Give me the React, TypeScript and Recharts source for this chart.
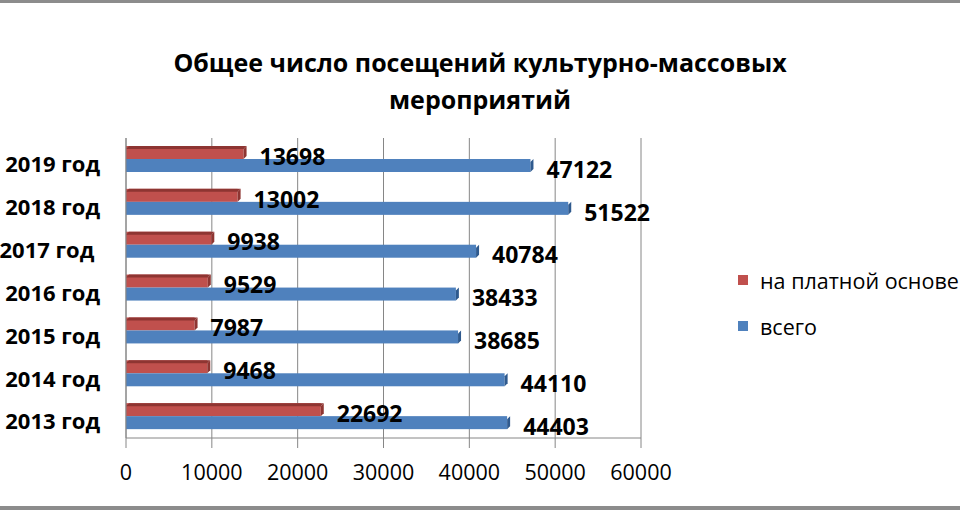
import React from "react";
import { BarChart, Bar, XAxis, YAxis, CartesianGrid, LabelList } from "recharts";

const categories = ["2019 год", "2018 год", "2017 год ", "2016 год", "2015 год", "2014 год", "2013 год"];
const paidValues = [13698, 13002, 9938, 9529, 7987, 9468, 22692];
const totalValues = [47122, 51522, 40784, 38433, 38685, 44110, 44403];
const xTicks = [0, 10000, 20000, 30000, 40000, 50000, 60000];
const seriesNames = ["на платной основе", "всего"];
const title = ["Общее число посещений культурно-массовых", "мероприятий"];

const RED = "#C0504D";
const RED_DARK = "#8E3532";
const BLUE = "#4F81BD";
const BLUE_DARK = "#2F5A8E";
const GRID = "#868686";
const FONT = "'Open Sans', 'Noto Sans', sans-serif";

const data = categories.map((name, i) => ({
  name,
  paid: paidValues[i],
  total: totalValues[i],
}));

// flat bar with a thin top face and right cap, imitating the 3D look
function Bar3D(props: any) {
  const { x, y, width, height, fill, dark, top } = props;
  if (width == null || width <= 0) return null;
  const d = 3;
  return (
    <g>
      <rect x={x} y={y} width={width} height={height} fill={fill} />
      {top && (
        <polygon
          points={`${x},${y + d} ${x + d},${y} ${x + width + d},${y} ${x + width},${y + d}`}
          fill={dark}
        />
      )}
      <polygon
        points={`${x + width},${y + d} ${x + width + d},${y} ${x + width + d},${y + height - d} ${x + width},${y + height}`}
        fill={dark}
      />
    </g>
  );
}

function ValueLabel(props: any) {
  const { x, y, width, height, value } = props;
  return (
    <text
      x={x + width + 16}
      y={y + height / 2 + 4}
      dy="0.36em"
      fontFamily={FONT}
      fontWeight="bold"
      fontSize={23}
      fill="#000"
    >
      {value}
    </text>
  );
}

function YTick(props: any) {
  const { x, y, payload } = props;
  return (
    <text
      x={x - 18}
      y={y + 5}
      dy="0.36em"
      textAnchor="end"
      fontFamily={FONT}
      fontWeight="bold"
      fontSize={22}
      fill="#000"
      style={{ whiteSpace: "pre" }}
    >
      {payload.value}
    </text>
  );
}

export default function App() {
  return (
    <div style={{ position: "absolute", left: 0, top: 0, width: 960, height: 510, background: "#fff", fontFamily: FONT }}>
      <div style={{ position: "absolute", left: 0, top: 0, width: 960, height: 3, background: "#8c8c8c" }} />
      <div style={{ position: "absolute", left: 0, top: 506, width: 960, height: 4, background: "#8c8c8c" }} />
      <div
        style={{
          position: "absolute",
          left: 0,
          top: 44,
          width: 960,
          textAlign: "center",
          fontWeight: "bold",
          fontSize: 25,
          lineHeight: "37px",
          color: "#000",
        }}
      >
        <div>{title[0]}</div>
        <div>{title[1]}</div>
      </div>
      <BarChart
        width={960}
        height={510}
        data={data}
        layout="vertical"
        margin={{ top: 138, right: 319, bottom: 32, left: 0 }}
        barSize={13}
        barGap={0}
      >
        <CartesianGrid horizontal={false} stroke={GRID} />
        <XAxis
          type="number"
          domain={[0, 60000]}
          ticks={xTicks}
          interval={0}
          height={40}
          tickSize={10}
          tickMargin={17}
          axisLine={{ stroke: GRID }}
          tickLine={{ stroke: GRID }}
          tick={{ fontFamily: FONT, fontSize: 21.5, fill: "#000" }}
        />
        <YAxis
          type="category"
          dataKey="name"
          width={126}
          axisLine={{ stroke: GRID }}
          tickLine={false}
          tick={<YTick />}
        />
        <Bar
          dataKey="paid"
          name={seriesNames[0]}
          fill={RED}
          isAnimationActive={false}
          shape={(p: any) => <Bar3D {...p} fill={RED} dark={RED_DARK} top />}
        >
          <LabelList dataKey="paid" content={<ValueLabel />} />
        </Bar>
        <Bar
          dataKey="total"
          name={seriesNames[1]}
          fill={BLUE}
          isAnimationActive={false}
          shape={(p: any) => <Bar3D {...p} fill={BLUE} dark={BLUE_DARK} />}
        >
          <LabelList dataKey="total" content={<ValueLabel />} />
        </Bar>
      </BarChart>
      <div style={{ position: "absolute", left: 738, top: 266, fontSize: 21.5, color: "#000" }}>
        {[RED, BLUE].map((c, i) => (
          <div key={i} style={{ display: "flex", alignItems: "center", height: 28, marginBottom: i === 0 ? 18 : 0 }}>
            <span style={{ display: "inline-block", width: 10, height: 10, background: c, marginRight: 12 }} />
            <span style={{ whiteSpace: "nowrap" }}>{seriesNames[i]}</span>
          </div>
        ))}
      </div>
    </div>
  );
}
